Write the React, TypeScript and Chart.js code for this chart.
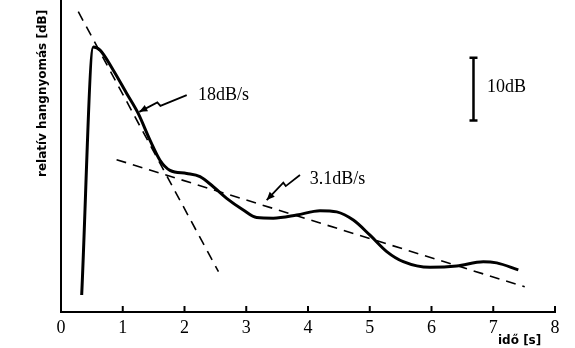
import React, { useEffect, useRef } from "react";
import { Chart, registerables } from "chart.js";

Chart.register(...registerables);

// Measured decay curve (time in s, relative level in dB above the time axis)
const timeS = [0.335, 0.523, 0.632, 0.847, 1.064, 1.252, 1.441, 1.603, 1.765, 2.036, 2.251, 2.466, 2.683, 2.952, 3.169, 3.438, 3.817, 4.194, 4.465, 4.734, 5.004, 5.275, 5.543, 5.976, 6.408, 6.839, 7.056, 7.406];
const levelDb = [2.7, 42.1, 41.6, 38.4, 34.7, 31.5, 27.3, 24.1, 22.5, 22.0, 21.5, 19.9, 18.05, 16.2, 15.0, 14.9, 15.4, 16.1, 15.9, 14.6, 12.2, 9.6, 8.0, 7.1, 7.3, 8.0, 7.8, 6.7];

// Fitted decay slopes (dashed lines)
const steepFitX = [0.28, 2.55];
const steepFitY = [47.7, 6.4];
const slowFitX = [0.9, 7.51];
const slowFitY = [24.2, 4.0];

// Axis ticks
const xTicks = [0, 1, 2, 3, 4, 5, 6, 7, 8];

// Annotation labels
const steepLabel = "18dB/s";
const slowLabel = "3.1dB/s";
const scaleLabel = "10dB";
const yTitle = "relatív hangnyomás [dB]";
const xTitle = "idő [s]";

// Annotation anchors in data units (s, dB)
const steepArrow = [[2.036, 34.44], [1.61, 32.75], [1.56, 33.3], [1.268, 31.79]];
const slowArrow = [[3.87, 21.75], [3.64, 20.0], [3.6, 20.55], [3.331, 17.78]];
const steepLabelPos = [2.22, 33.65];
const slowLabelPos = [4.03, 20.4];
const scaleBarX = 6.68;
const scaleBarDb = [30.4, 40.4];
const scaleLabelPos = [6.9, 34.9];

const SERIF = "'Liberation Serif', 'Times New Roman', serif";
const SANS = "'DejaVu Sans', sans-serif";

const annotationPlugin = {
  id: "annotations",
  afterDraw(chart: any) {
    const ctx = chart.ctx as CanvasRenderingContext2D;
    const xs = chart.scales.x;
    const ys = chart.scales.y;
    const px = (v: number) => xs.getPixelForValue(v);
    const py = (v: number) => ys.getPixelForValue(v);
    const bottom = chart.chartArea.bottom;
    ctx.save();
    ctx.strokeStyle = "#000";
    ctx.fillStyle = "#000";

    // inward tick marks on the time axis
    ctx.lineWidth = 2;
    xTicks.forEach((t) => {
      if (t === 0) return;
      const x = px(t);
      ctx.beginPath();
      ctx.moveTo(x, bottom);
      ctx.lineTo(x, bottom - 6);
      ctx.stroke();
    });

    // 10 dB scale bar
    const bx = px(scaleBarX);
    const by1 = py(scaleBarDb[0]);
    const by2 = py(scaleBarDb[1]);
    ctx.lineWidth = 2.5;
    ctx.beginPath();
    ctx.moveTo(bx, by1);
    ctx.lineTo(bx, by2);
    ctx.moveTo(bx - 4, by1);
    ctx.lineTo(bx + 4, by1);
    ctx.moveTo(bx - 4, by2);
    ctx.lineTo(bx + 4, by2);
    ctx.stroke();

    // zigzag arrows
    const drawArrow = (pts: number[][]) => {
      const p = pts.map(([a, b]) => [px(a), py(b)]);
      ctx.lineWidth = 1.8;
      ctx.beginPath();
      ctx.moveTo(p[0][0], p[0][1]);
      for (let i = 1; i < p.length; i++) ctx.lineTo(p[i][0], p[i][1]);
      ctx.stroke();
      const tip = p[p.length - 1];
      const prev = p[p.length - 2];
      const ang = Math.atan2(tip[1] - prev[1], tip[0] - prev[0]);
      const len = 8;
      const wid = 3.5;
      ctx.beginPath();
      ctx.moveTo(tip[0], tip[1]);
      ctx.lineTo(tip[0] - len * Math.cos(ang) + wid * Math.sin(ang), tip[1] - len * Math.sin(ang) - wid * Math.cos(ang));
      ctx.lineTo(tip[0] - len * Math.cos(ang) - wid * Math.sin(ang), tip[1] - len * Math.sin(ang) + wid * Math.cos(ang));
      ctx.closePath();
      ctx.fill();
    };
    drawArrow(steepArrow);
    drawArrow(slowArrow);

    // labels
    ctx.font = `18px ${SERIF}`;
    ctx.textAlign = "left";
    ctx.textBaseline = "alphabetic";
    ctx.fillText(steepLabel, px(steepLabelPos[0]), py(steepLabelPos[1]));
    ctx.fillText(slowLabel, px(slowLabelPos[0]), py(slowLabelPos[1]));
    ctx.fillText(scaleLabel, px(scaleLabelPos[0]), py(scaleLabelPos[1]));

    // axis titles
    ctx.font = `bold 12px ${SANS}`;
    ctx.textAlign = "left";
    ctx.fillText(xTitle, 498, 344);
    ctx.save();
    ctx.translate(46, 177);
    ctx.rotate(-Math.PI / 2);
    ctx.fillText(yTitle, 0, 0);
    ctx.restore();

    ctx.restore();
  },
};

export default function App() {
  const canvasRef = useRef<HTMLCanvasElement | null>(null);

  useEffect(() => {
    document.body.style.margin = "0";
    const canvas = canvasRef.current;
    if (!canvas) return;
    const chart = new Chart(canvas, {
      type: "line",
      data: {
        datasets: [
          {
            data: timeS.map((t, i) => ({ x: t, y: levelDb[i] })),
            borderColor: "#000",
            borderWidth: 3,
            cubicInterpolationMode: "monotone",
            pointRadius: 0,
            fill: false,
          },
          {
            data: steepFitX.map((t, i) => ({ x: t, y: steepFitY[i] })),
            borderColor: "#000",
            borderWidth: 1.6,
            borderDash: [10, 7],
            pointRadius: 0,
            fill: false,
          },
          {
            data: slowFitX.map((t, i) => ({ x: t, y: slowFitY[i] })),
            borderColor: "#000",
            borderWidth: 1.6,
            borderDash: [10, 7],
            pointRadius: 0,
            fill: false,
          },
        ],
      },
      options: {
        animation: false,
        responsive: false,
        maintainAspectRatio: false,
        layout: { padding: { left: 61, right: 20, top: 1, bottom: 0 } },
        plugins: { legend: { display: false }, tooltip: { enabled: false } },
        scales: {
          x: {
            type: "linear",
            min: 0,
            max: 8,
            afterBuildTicks: (s: any) => {
              s.ticks = xTicks.map((v) => ({ value: v }));
            },
            afterFit: (s: any) => {
              s.height = 36;
            },
            grid: { display: false, drawTicks: false },
            border: { display: true, color: "#000", width: 2 },
            ticks: {
              color: "#000",
              font: { family: SERIF, size: 18 },
              padding: 5,
              maxRotation: 0,
              autoSkip: false,
            },
          },
          y: {
            type: "linear",
            min: 0,
            max: 49.4,
            afterFit: (s: any) => {
              s.width = 0;
            },
            grid: { display: false, drawTicks: false },
            border: { display: true, color: "#000", width: 2 },
            ticks: { display: false },
          },
        },
      },
      plugins: [annotationPlugin],
    } as any);
    return () => chart.destroy();
  }, []);

  return (
    <div style={{ width: 575, height: 348, background: "#fff" }}>
      <canvas ref={canvasRef} width={575} height={348} />
    </div>
  );
}
